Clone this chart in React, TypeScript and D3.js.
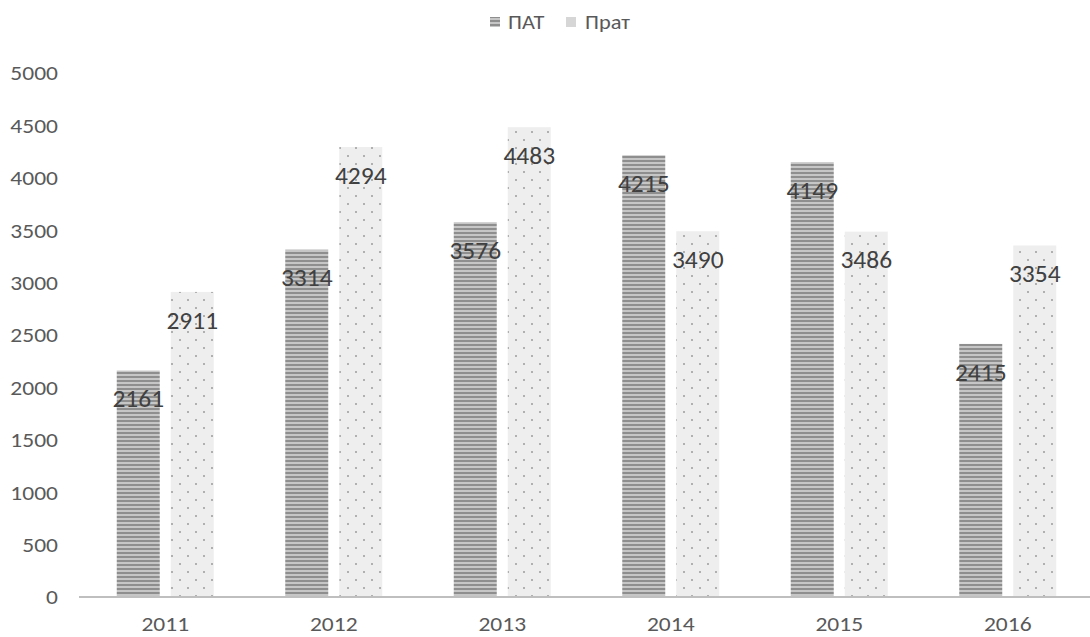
import React from "react";
import * as d3 from "d3";

const years = ["2011", "2012", "2013", "2014", "2015", "2016"];
const patValues = [2161, 3314, 3576, 4215, 4149, 2415];
const pratValues = [2911, 4294, 4483, 3490, 3486, 3354];
const seriesNames = ["ПАТ", "Прат"];
const yTicks = [0, 500, 1000, 1500, 2000, 2500, 3000, 3500, 4000, 4500, 5000];

const W = 1090;
const H = 637;
const font = "Carlito, Calibri, 'Liberation Sans', Arial, sans-serif";

// Text with a slight horizontal stretch
function Txt(props: {
  x: number;
  y: number;
  size: number;
  fill: string;
  anchor?: "start" | "middle" | "end";
  sx?: number;
  children: React.ReactNode;
}) {
  const { x, y, size, fill, anchor = "start", sx = 1.12, children } = props;
  return (
    <text
      transform={`translate(${x},${y}) scale(${sx},1)`}
      fontFamily={font}
      fontSize={size}
      fill={fill}
      textAnchor={anchor}
      dy="0.35em"
    >
      {children}
    </text>
  );
}

export default function App() {
  const x = d3.scaleBand<string>().domain(years).range([81, 1092]);
  const y = d3.scaleLinear().domain([0, 5000]).range([597, 73]);
  const barW = 43;
  const gap = 11;

  const series = [
    { name: seriesNames[0], values: patValues, fill: "url(#stripes)", offset: -gap / 2 - barW },
    { name: seriesNames[1], values: pratValues, fill: "url(#dots)", offset: gap / 2 },
  ];

  const mid = (yr: string) => x(yr)! + x.bandwidth() / 2;

  return (
    <svg width={W} height={H} style={{ position: "absolute", left: 0, top: 0, background: "#fff" }}>
      <defs>
        <pattern id="stripes" width="8" height="4" patternUnits="userSpaceOnUse">
          <rect width="8" height="4" fill="#c6c6c6" />
          <rect width="8" height="2" fill="#8e8e8e" />
        </pattern>
        <pattern id="dots" width="16" height="16" patternUnits="userSpaceOnUse">
          <rect width="16" height="16" fill="#eeeeee" />
          <circle cx="4" cy="4" r="1" fill="#9c9c9c" />
          <circle cx="12" cy="12" r="1" fill="#9c9c9c" />
        </pattern>
      </defs>

      {/* legend */}
      <rect x={490} y={17} width={10} height={10} fill="url(#stripes)" />
      <Txt x={508} y={22} size={20} fill="#595959">{seriesNames[0]}</Txt>
      <rect x={566} y={17} width={10} height={10} fill="#d6d6d6" />
      <Txt x={585} y={22} size={20} fill="#595959">{seriesNames[1]}</Txt>

      {/* y axis tick labels */}
      {yTicks.map((t) => (
        <Txt key={t} x={58} y={y(t)} size={21} fill="#595959" anchor="end">{t}</Txt>
      ))}

      {/* bars */}
      {series.map((s) =>
        s.values.map((v, i) => (
          <rect
            key={s.name + i}
            x={mid(years[i]) + s.offset}
            y={y(v)}
            width={barW}
            height={y(0) - y(v)}
            fill={s.fill}
          />
        ))
      )}

      {/* axis line */}
      <line x1={79} x2={1090} y1={597} y2={597} stroke="#bfbfbf" strokeWidth={2} />

      {/* x labels */}
      {years.map((yr) => (
        <Txt key={yr} x={mid(yr)} y={624} size={21} fill="#595959" anchor="middle">{yr}</Txt>
      ))}

      {/* value labels */}
      {series.map((s) =>
        s.values.map((v, i) => (
          <Txt
            key={s.name + "l" + i}
            x={mid(years[i]) + s.offset + barW / 2}
            y={y(v) + 28}
            size={25}
            fill="#404040"
            anchor="middle"
            sx={1.02}
          >
            {v}
          </Txt>
        ))
      )}
    </svg>
  );
}
